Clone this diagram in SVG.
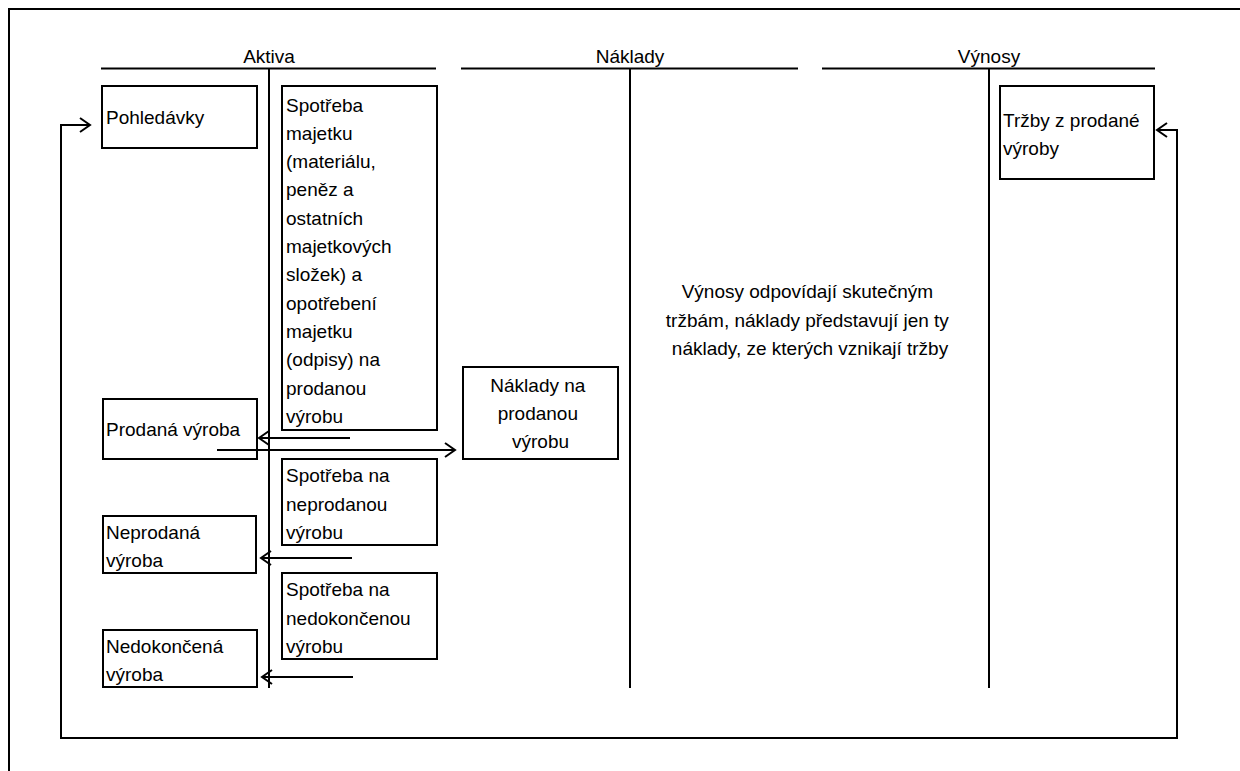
<svg xmlns="http://www.w3.org/2000/svg" width="1240" height="771" viewBox="0 0 1240 771">
<style>
  .ln{stroke:#000;stroke-width:2;fill:none}
  .box{stroke:#000;stroke-width:2;fill:#fff}
  .t{font-family:"Liberation Sans",Arial,sans-serif;font-size:19px;fill:#000}
  .c{text-anchor:middle}
  .arr{stroke:#000;stroke-width:2;fill:none;marker-end:url(#ah)}
</style>
<defs>
  <marker id="ah" markerUnits="userSpaceOnUse" viewBox="-12 -9 14 18" refX="0" refY="0" markerWidth="14" markerHeight="18" orient="auto-start-reverse">
    <path d="M-10,-7 L0,0 L-10,7" fill="none" stroke="#000" stroke-width="2"/>
  </marker>
</defs>
<rect width="1240" height="771" fill="#fff"/>
<g id="frame">
  <path class="ln" d="M9,771 V9 H1240"/>
</g>
<g id="accounts">
  <g id="aktiva">
    <text class="t c" x="269" y="63">Aktiva</text>
    <path class="ln" d="M101,68.5 H436 M269,68.5 V688"/>
  </g>
  <g id="naklady">
    <text class="t c" x="630" y="63">Náklady</text>
    <path class="ln" d="M461,68.5 H798 M630,68.5 V688"/>
  </g>
  <g id="vynosy">
    <text class="t c" x="989" y="63">Výnosy</text>
    <path class="ln" d="M822,68.5 H1155 M989,68.5 V688"/>
  </g>
</g>
<g id="pohledavky">
  <rect class="box" x="102" y="86" width="155" height="62"/>
  <text class="t" x="106" y="124">Pohledávky</text>
</g>
<g id="spotreba-prodanou">
  <rect class="box" x="282" y="86" width="155" height="344"/>
  <text class="t" x="286">
    <tspan x="286" y="111.5">Spotřeba</tspan>
    <tspan x="286" y="139.8">majetku</tspan>
    <tspan x="286" y="168.1">(materiálu,</tspan>
    <tspan x="286" y="196.4">peněz a</tspan>
    <tspan x="286" y="224.7">ostatních</tspan>
    <tspan x="286" y="253">majetkových</tspan>
    <tspan x="286" y="281.3">složek) a</tspan>
    <tspan x="286" y="309.6">opotřebení</tspan>
    <tspan x="286" y="337.9">majetku</tspan>
    <tspan x="286" y="366.2">(odpisy) na</tspan>
    <tspan x="286" y="394.5">prodanou</tspan>
    <tspan x="286" y="422.8">výrobu</tspan>
  </text>
</g>
<g id="prodana-vyroba">
  <rect class="box" x="103" y="399" width="154" height="60"/>
  <text class="t" x="106" y="436">Prodaná výroba</text>
</g>
<g id="naklady-prodanou">
  <rect class="box" x="463" y="367" width="155" height="92"/>
  <text class="t c">
    <tspan x="540.5" y="392">Náklady na</tspan>
    <tspan x="540.5" y="420">prodanou</tspan>
    <tspan x="540.5" y="448">výrobu</tspan>
  </text>
</g>
<g id="spotreba-neprodanou">
  <rect class="box" x="282" y="459" width="155" height="86"/>
  <text class="t">
    <tspan x="286" y="482">Spotřeba na</tspan>
    <tspan x="286" y="510.5">neprodanou</tspan>
    <tspan x="286" y="539">výrobu</tspan>
  </text>
</g>
<g id="neprodana-vyroba">
  <rect class="box" x="103" y="516" width="153" height="57"/>
  <text class="t">
    <tspan x="106" y="539">Neprodaná</tspan>
    <tspan x="106" y="567">výroba</tspan>
  </text>
</g>
<g id="spotreba-nedokoncenou">
  <rect class="box" x="282" y="573" width="155" height="86"/>
  <text class="t">
    <tspan x="286" y="596">Spotřeba na</tspan>
    <tspan x="286" y="624.5">nedokončenou</tspan>
    <tspan x="286" y="653">výrobu</tspan>
  </text>
</g>
<g id="nedokoncena-vyroba">
  <rect class="box" x="103" y="630" width="154" height="57"/>
  <text class="t">
    <tspan x="106" y="653">Nedokončená</tspan>
    <tspan x="106" y="681">výroba</tspan>
  </text>
</g>
<g id="trzby">
  <rect class="box" x="1000" y="86" width="154" height="93"/>
  <text class="t">
    <tspan x="1003" y="127">Tržby z prodané</tspan>
    <tspan x="1003" y="155">výroby</tspan>
  </text>
</g>
<g id="note">
  <text class="t c">
    <tspan x="810" y="298">Výnosy odpovídají skutečným</tspan>
    <tspan x="810" y="326.5">tržbám, náklady představují jen ty</tspan>
    <tspan x="810" y="355">náklady, ze kterých vznikají tržby</tspan>
  </text>
</g>
<g id="connectors">
  <path class="arr" d="M350,438 H259"/>
  <path class="arr" d="M217,450 H455"/>
  <path class="arr" d="M352,558 H261"/>
  <path class="arr" d="M353,677 H262"/>
  <path class="arr" style="marker-start:url(#ah)" d="M1157,130 H1177 V738 H61 V125 H90"/>
</g>
</svg>
